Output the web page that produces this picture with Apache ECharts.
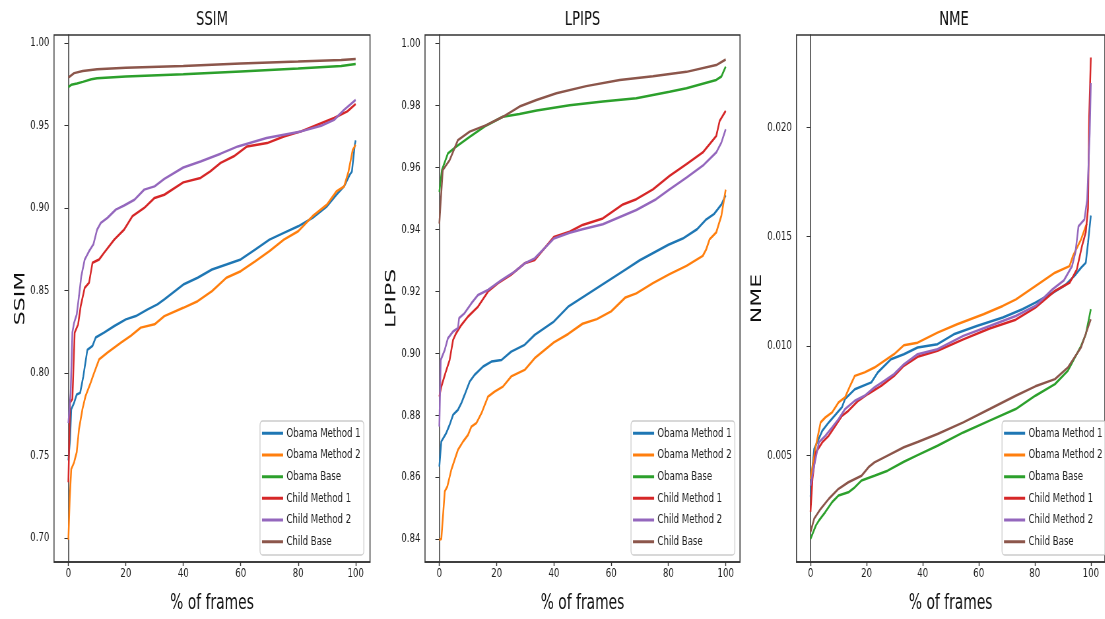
<!DOCTYPE html>
<html>
<head>
<meta charset="utf-8">
<script src="https://cdn.jsdelivr.net/npm/echarts@6/dist/echarts.min.js"></script>
<style>
html,body{margin:0;padding:0;background:#fff;width:1105px;height:619px;overflow:hidden;}
#wrap{width:1105px;height:619px;overflow:hidden;position:relative;}
#chart{width:1674px;height:619px;transform:scaleX(0.66);transform-origin:0 0;position:absolute;left:0;top:0;}
</style>
</head>
<body>
<div id="wrap"><div id="chart"></div></div>
<script>
// ---------- data ----------
const seriesNames = ['Obama Method 1','Obama Method 2','Obama Base','Child Method 1','Child Method 2','Child Base'];
const panelTitles = ['SSIM','LPIPS','NME'];
const xTicks = [0,20,40,60,80,100];
const ssimTicks = [0.70,0.75,0.80,0.85,0.90,0.95,1.00];
const lpipsTicks = [0.84,0.86,0.88,0.90,0.92,0.94,0.96,0.98,1.00];
const nmeTicks = [0.005,0.010,0.015,0.020];

// SSIM  [% of frames, value]
const ssimObama1 = [[0,0.747],[0.6,0.760],[1.0,0.778],[2,0.782],[2.9,0.787],[4.1,0.788],[5.2,0.798],[6.6,0.814],[8.4,0.8165],[9.5,0.8215],[12.4,0.8245],[16,0.8285],[20,0.8325],[23.5,0.8345],[27.6,0.8386],[31,0.8416],[33.4,0.8446],[40,0.8536],[45,0.8577],[50,0.8627],[55,0.8657],[60,0.8688],[65,0.8748],[70,0.8808],[75,0.8849],[80,0.8889],[85,0.894],[90,0.901],[93.3,0.908],[96,0.9131],[97.9,0.920],[98.7,0.922],[99.7,0.9383],[100,0.941]];
const ssimObama2 = [[0,0.699],[0.5,0.7247],[1,0.7418],[2,0.7459],[2.9,0.752],[3.7,0.766],[4.9,0.7781],[6,0.7862],[7.8,0.7943],[9,0.8003],[10.7,0.8083],[13.6,0.8124],[18.3,0.8184],[21.7,0.8225],[25.2,0.8275],[30,0.8295],[33.4,0.8345],[40,0.8395],[45,0.8435],[50,0.8496],[55,0.8577],[60,0.8617],[65,0.8677],[70,0.8738],[75,0.8808],[80,0.8859],[85,0.895],[90,0.902],[93.3,0.910],[96,0.9131],[97.5,0.922],[99,0.9353],[100,0.9383]];
const ssimObamaBase = [[0,0.9732],[1,0.9746],[3,0.9754],[5,0.9764],[8,0.978],[10,0.9786],[20,0.9796],[40,0.981],[60,0.9827],[80,0.9845],[95,0.986],[100,0.9873]];
const ssimChild1 = [[0,0.7338],[0.6,0.782],[1.4,0.7842],[2.2,0.8245],[3.4,0.8295],[4.3,0.8406],[5.7,0.8517],[7.2,0.8547],[8.4,0.8668],[10.7,0.8688],[12.4,0.8728],[16,0.8809],[19.4,0.8869],[22.3,0.895],[26.4,0.900],[30,0.9061],[33.4,0.908],[40,0.9155],[46,0.9182],[49.4,0.9222],[53,0.9273],[57.6,0.9313],[62.2,0.9373],[69.2,0.9393],[75,0.9433],[81,0.9464],[86.7,0.9504],[92.5,0.9545],[97.1,0.9585],[100,0.963]];
const ssimChild2 = [[0,0.7697],[0.8,0.788],[1.4,0.8247],[2,0.8305],[2.9,0.8355],[3.7,0.8466],[4.5,0.8587],[5.7,0.8688],[7.2,0.8738],[8.7,0.8779],[10,0.8869],[11.3,0.891],[13.6,0.894],[16.5,0.899],[19.4,0.9015],[23,0.905],[26.4,0.9111],[30,0.9131],[33.4,0.9176],[40,0.9245],[46,0.9282],[53,0.9329],[59,0.9373],[69,0.9424],[81,0.9464],[88,0.9498],[92.5,0.9534],[96,0.9595],[100,0.9655]];
const ssimChildBase = [[0,0.979],[2,0.9817],[5,0.983],[10,0.984],[20,0.985],[40,0.986],[60,0.9875],[80,0.9887],[95,0.9897],[100,0.9903]];

// LPIPS
const lpipsObama1 = [[0,0.8634],[0.7,0.8715],[2.4,0.8742],[3.6,0.8769],[4.8,0.8801],[6.5,0.8817],[7.7,0.8839],[8.8,0.8865],[10.6,0.8908],[12.3,0.893],[15.3,0.8957],[18.2,0.8973],[21.7,0.8978],[25.1,0.9005],[29.8,0.9027],[33.3,0.9059],[40,0.9102],[45,0.915],[50,0.918],[55,0.921],[60,0.924],[65,0.927],[70,0.930],[75,0.9325],[80,0.935],[85,0.937],[90,0.940],[93,0.943],[96,0.945],[98.5,0.948],[100,0.951]];
const lpipsObama2 = [[0,0.8398],[0.7,0.840],[1.9,0.8554],[2.8,0.857],[4.2,0.8624],[6.5,0.8688],[8.3,0.8715],[10,0.8736],[11.2,0.8763],[12.9,0.8774],[14.7,0.8806],[17,0.886],[19.3,0.8876],[22.2,0.8892],[25.1,0.8925],[29.8,0.8946],[33.3,0.8984],[40,0.9035],[45,0.9062],[50,0.9095],[55,0.911],[60,0.9135],[65,0.918],[68.8,0.9193],[74.6,0.9226],[80.4,0.9255],[86.3,0.9282],[92,0.9314],[93.2,0.9335],[94.4,0.9368],[96.7,0.939],[98.5,0.9444],[100,0.9528]];
const lpipsObamaBase = [[0,0.952],[0.9,0.9591],[3,0.9645],[5.9,0.9667],[10.6,0.9698],[16.4,0.9735],[22.2,0.9763],[28,0.9772],[34,0.9783],[45.5,0.98],[57.1,0.9812],[68.8,0.9823],[80.4,0.9844],[86.3,0.9855],[96.7,0.9882],[98.5,0.9893],[100,0.9925]];
const lpipsChild1 = [[0,0.886],[0.7,0.8892],[2.1,0.8935],[3.6,0.8978],[4.8,0.9043],[5.9,0.9065],[7.7,0.9091],[10,0.9118],[13.5,0.915],[17,0.9199],[20.5,0.9226],[25,0.9253],[29.8,0.929],[33.3,0.9301],[40,0.9375],[45.5,0.9392],[50,0.9414],[57.1,0.9435],[64.1,0.948],[68.8,0.9497],[74.6,0.9529],[80.4,0.9572],[86.3,0.961],[92,0.9648],[96.7,0.9701],[97.9,0.975],[100,0.9782]];
const lpipsChild2 = [[0,0.8763],[0.5,0.8978],[1.9,0.9011],[3,0.9048],[4.8,0.907],[6.5,0.9081],[6.9,0.9113],[8.8,0.9129],[11.2,0.9161],[13.5,0.9188],[17,0.9204],[21.7,0.9236],[26.3,0.9263],[29.8,0.929],[33.3,0.9306],[40,0.937],[45.5,0.9389],[50,0.940],[57.1,0.9416],[68.8,0.9462],[75.7,0.9497],[80.4,0.9529],[86.3,0.9567],[92,0.9605],[96.7,0.9648],[98.5,0.968],[100,0.9723]];
const lpipsChildBase = [[0,0.9418],[1.2,0.9591],[3.6,0.9623],[6.5,0.9688],[10.6,0.9715],[16.4,0.9736],[22.2,0.9763],[28,0.9796],[33.9,0.9817],[40.9,0.9839],[51.3,0.9862],[63,0.9882],[74.6,0.9894],[86.3,0.9908],[96.7,0.993],[100,0.9948]];

// NME
const nmeObama1 = [[0,0.0031],[0.7,0.0045],[1.3,0.00528],[4.2,0.00612],[6.5,0.0065],[11.2,0.00719],[12.3,0.00757],[15.8,0.00802],[21.7,0.00833],[24,0.00879],[28.7,0.00939],[33.3,0.00962],[38.2,0.00993],[45.3,0.01008],[51.1,0.01053],[59.3,0.01091],[68.6,0.0113],[75.6,0.01168],[80.2,0.01198],[86,0.0124],[91,0.0128],[94.1,0.0132],[96.5,0.01358],[98.2,0.01381],[99,0.01472],[100,0.01597]];
const nmeObama2 = [[0,0.0039],[1.9,0.00543],[3.6,0.0065],[5.3,0.00673],[7.7,0.00696],[10,0.00742],[12.3,0.00764],[14.1,0.00817],[15.8,0.00863],[19.3,0.00879],[22.8,0.00901],[26.3,0.00932],[29.8,0.00962],[33.3,0.01003],[38.2,0.01015],[45.3,0.01061],[52.3,0.01099],[61.7,0.01145],[68.6,0.01183],[73.3,0.01213],[80.2,0.01274],[87.2,0.01335],[92.4,0.01365],[93.6,0.01411],[96.5,0.01487],[98.2,0.01548],[98.6,0.0156]];
const nmeObamaBase = [[0,0.00117],[1.9,0.00178],[3,0.00201],[5.3,0.0024],[7.7,0.00285],[10,0.00315],[13.5,0.0033],[15.8,0.00353],[18.2,0.00384],[22.8,0.00406],[27.5,0.00429],[33.3,0.0047],[38.2,0.005],[45.3,0.00543],[54.5,0.00604],[63.9,0.00658],[73.2,0.00711],[80.2,0.00772],[87.2,0.00825],[91.8,0.00886],[96.5,0.01],[98.2,0.01053],[100,0.01168]];
const nmeChild1 = [[0,0.0024],[0.7,0.00391],[1.9,0.00513],[4.2,0.00559],[6.5,0.00589],[8.9,0.00635],[11.2,0.0068],[13.5,0.00703],[17,0.00749],[20.5,0.0078],[25.2,0.00817],[29.8,0.00863],[33.3,0.00909],[38.2,0.0095],[45.3,0.00978],[54.5,0.0103],[63.9,0.0108],[73.2,0.0112],[80.2,0.01175],[87,0.0125],[92.5,0.0129],[95,0.0135],[96.9,0.0146],[98.2,0.0152],[99,0.0163],[99.4,0.0205],[100,0.0232]];
const nmeChild2 = [[0,0.0036],[1.3,0.00452],[3,0.00559],[5.3,0.00589],[7.7,0.00627],[10,0.00665],[12.3,0.00711],[15.8,0.00749],[19.3,0.00772],[22.8,0.0081],[26.3,0.0084],[29.8,0.00871],[33.3,0.00916],[38.2,0.00962],[45.3,0.00985],[54.5,0.01046],[63.9,0.01091],[73.2,0.01137],[80.2,0.01183],[86.3,0.01259],[90.4,0.013],[93.3,0.01365],[94.5,0.01428],[95.6,0.01548],[97.7,0.01579],[98.7,0.0167],[99.6,0.01974],[100,0.02203]];
const nmeChildBase = [[0,0.00148],[1.3,0.00209],[3.6,0.00254],[6.5,0.003],[10,0.00346],[13.5,0.00376],[18.2,0.00406],[20.7,0.00445],[22.8,0.00467],[27.5,0.00498],[33.3,0.00536],[38.2,0.0056],[45.3,0.00597],[54.5,0.0065],[63.9,0.00711],[73.2,0.00772],[80.2,0.00815],[87.2,0.00848],[91.8,0.00901],[96.5,0.00993],[100,0.01122]];

// ---------- chart ----------
// The figure is drawn on a wider canvas and squeezed horizontally (CSS scaleX 0.66),
// like the horizontally compressed reference figure.
const SX = 0.66;
const colors = ['#1f77b4','#ff7f0e','#2ca02c','#d62728','#9467bd','#8c564b'];
const F = "'DejaVu Sans',sans-serif";
const u = v => v / SX; // screen x -> unscaled canvas x
const panels = [
  {data:[ssimObama1,ssimObama2,ssimObamaBase,ssimChild1,ssimChild2,ssimChildBase], ticks:ssimTicks, min:0.6855, max:1.0048, dec:2, left:54, right:370, nameGap:35, legendLeft:260},
  {data:[lpipsObama1,lpipsObama2,lpipsObamaBase,lpipsChild1,lpipsChild2,lpipsChildBase], ticks:lpipsTicks, min:0.8326, max:1.0027, dec:2, left:425, right:740, nameGap:35, legendLeft:631},
  {data:[nmeObama1,nmeObama2,nmeObamaBase,nmeChild1,nmeChild2,nmeChildBase], ticks:nmeTicks, min:0.00011, max:0.02423, dec:3, left:796.5, right:1111.5, nameGap:43, legendLeft:1002}
];

const option = {
  animation:false,
  color:colors,
  backgroundColor:'#fff',
  title:[], grid:[], xAxis:[], yAxis:[], legend:[], series:[]
};

panels.forEach((p,i)=>{
  const gl = u(p.left), gw = u(p.right) - u(p.left);
  option.title.push({text:panelTitles[i], left:gl + gw/2, top:10, textAlign:'center', padding:0,
    textStyle:{fontFamily:F, fontSize:20, fontWeight:'normal', color:'#111'}});
  option.grid.push({left:gl, top:35, width:gw, height:528, show:true, borderColor:'#333', borderWidth:1.5, backgroundColor:'transparent'});
  option.xAxis.push({gridIndex:i, type:'value', min:-5, max:105,
    axisLine:{show:true, lineStyle:{color:'#333', width:1.5}},
    axisTick:{show:true, length:4, lineStyle:{color:'#333', width:1.4}, customValues:xTicks},
    axisLabel:{customValues:xTicks, margin:5, fontFamily:F, fontSize:13, color:'#222'},
    splitLine:{show:false},
    name:'% of frames', nameLocation:'middle', nameGap:31,
    nameTextStyle:{fontFamily:F, fontSize:21, color:'#111'}});
  option.yAxis.push({gridIndex:i, type:'value', min:p.min, max:p.max,
    axisLine:{show:true, lineStyle:{color:'#333', width:1.5}},
    axisTick:{show:true, length:6, lineStyle:{color:'#333', width:1}, customValues:p.ticks},
    axisLabel:{customValues:p.ticks, margin:7, fontFamily:F, fontSize:13, color:'#222', formatter:v=>v.toFixed(p.dec)},
    splitLine:{show:false},
    name:panelTitles[i], nameLocation:'middle', nameGap:p.nameGap, nameRotate:90,
    nameTextStyle:{fontFamily:F, fontSize:22, color:'#111'}});
  option.legend.push({orient:'vertical', left:u(p.legendLeft), top:421, icon:'rect', itemWidth:32, itemHeight:3, itemGap:7.2,
    padding:[5,5,6,3], backgroundColor:'rgba(255,255,255,0.8)', borderColor:'#ccc', borderWidth:1.3, borderRadius:4,
    selectedMode:false, data:seriesNames,
    textStyle:{fontFamily:F, fontSize:13, color:'#222', lineHeight:14.5}});
  p.data.forEach((d,k)=>{
    option.series.push({name:seriesNames[k], type:'line', xAxisIndex:i, yAxisIndex:i, data:d,
      showSymbol:false, symbol:'none', lineStyle:{width:2.5, color:colors[k]}, itemStyle:{color:colors[k]}, z:2+k});
  });
});

const chart = echarts.init(document.getElementById('chart'), null, {renderer:'canvas', width:1674, height:619});
chart.setOption(option);
</script>
</body>
</html>
